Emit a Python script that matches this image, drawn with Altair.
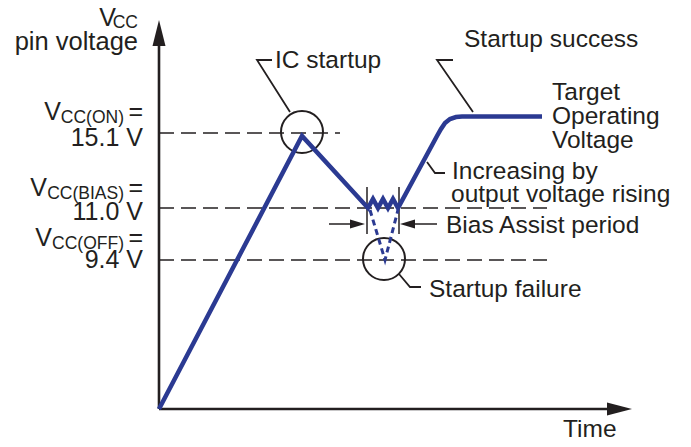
import altair as alt
import pandas as pd

# ---------------- data (schematic units: time from origin, level above time axis)
wave_t = [0, 143, 209, 214, 219, 224, 229, 234, 239, 278, 282, 286, 291, 297, 303, 383]
wave_v = [0, 273, 201, 210, 201, 210, 201, 210, 201, 273, 280, 286, 290, 292, 292.5, 292.5]

fail_t = [211, 226, 239]
fail_v = [199, 149, 199]

level_sub = ["CC(ON)", "CC(BIAS)", "CC(OFF)"]
level_volts = ["15.1 V", "11.0 V", "9.4 V"]
level_pos = [276, 201, 149]
level_end = [181, 388, 388]

INK = "#231f20"
BLUE = "#2b3a92"
FONT = "Liberation Sans"

X = alt.Scale(domain=[-151, 524], nice=False, zero=False)
Y = alt.Scale(domain=[-30, 401], nice=False, zero=False)


def xq(f="x"):
    return alt.X(f + ":Q", scale=X, axis=None)


def yq(f="y"):
    return alt.Y(f + ":Q", scale=Y, axis=None)


# dashed level lines
levels = pd.DataFrame({"x": [0] * 3, "x2": level_end, "y": level_pos})
dash = alt.Chart(levels).mark_rule(strokeDash=[15, 7], strokeWidth=1.4, color=INK).encode(
    x=xq(), x2="x2:Q", y=yq())

# axes
axes_df = pd.DataFrame({"x": [0, 0], "x2": [0, 448], "y": [0, 0], "y2": [363, 0]})
axes = alt.Chart(axes_df).mark_rule(strokeWidth=2.6, color=INK).encode(
    x=xq(), x2="x2:Q", y=yq(), y2="y2:Q")

# arrow heads (vertical orientation: x axis, bias assist arrows)
heads_v = pd.DataFrame({
    "g": ["xa", "xa", "bl", "bl", "br", "br"],
    "x": [448, 473, 191, 206, 241, 256],
    "y": [6.5, 0, 189.5, 185, 185, 189.5],
    "y2": [-6.5, 0, 180.5, 185, 185, 180.5],
})
hv = alt.Chart(heads_v).mark_area(orient="vertical", color=INK).encode(
    x=xq(), y=yq(), y2="y2:Q", detail="g:N")

heads_h = pd.DataFrame({"y": [363, 389], "x": [-6.5, 0], "x2": [6.5, 0]})
hh = alt.Chart(heads_h).mark_area(orient="horizontal", color=INK).encode(
    y=yq(), x=xq(), x2="x2:Q")

# bias assist ticks and shafts
ticks_df = pd.DataFrame({"x": [208, 240, 170, 256], "x2": [208, 240, 192, 278],
                         "y": [222, 222, 185, 185], "y2": [175, 175, 185, 185]})
ticks = alt.Chart(ticks_df).mark_rule(strokeWidth=1.5, color=INK).encode(
    x=xq(), x2="x2:Q", y=yq(), y2="y2:Q")

# circles
circ_df = pd.DataFrame({"x": [143, 225], "y": [277, 150]})
circles = alt.Chart(circ_df).mark_point(shape="circle", size=1764, filled=False,
                                        strokeWidth=2, color=INK, opacity=1).encode(
    x=xq(), y=yq())

# leader lines
lead_df = pd.DataFrame({
    "g": ["ic"] * 3 + ["su"] * 3 + ["in"] * 3 + ["fa"] * 3,
    "o": [0, 1, 2] * 4,
    "x": [131, 98, 113, 314, 278, 294, 268, 276, 286, 240, 251, 262],
    "y": [297, 349, 349, 297, 349, 349, 247, 236, 236, 135, 122, 122],
})
leaders = alt.Chart(lead_df).mark_line(strokeWidth=1.8, color=INK).encode(
    x=xq(), y=yq(), detail="g:N", order="o:Q")

# failure path (dotted blue)
fail_df = pd.DataFrame({"x": fail_t, "y": fail_v, "o": range(len(fail_t))})
fail = alt.Chart(fail_df).mark_line(strokeWidth=3, strokeDash=[6, 4], color=BLUE).encode(
    x=xq(), y=yq(), order="o:Q")

# main waveform
wave_df = pd.DataFrame({"x": wave_t, "y": wave_v, "o": range(len(wave_t))})
wave = alt.Chart(wave_df).mark_line(strokeWidth=4.5, color=BLUE, strokeJoin="miter").encode(
    x=xq(), y=yq(), order="o:Q")

# right-side annotations (left aligned)
ann_left = pd.DataFrame({
    "t": ["IC startup", "Startup success", "Target", "Operating", "Voltage",
          "Increasing by", "output voltage rising", "Bias Assist period",
          "Startup failure", "Time"],
    "x": [116, 305, 393, 393, 393, 293, 292, 287, 270, 404],
    "y": [341, 362, 309, 285, 261, 230, 207, 176, 112, -28],
})
tl = alt.Chart(ann_left).mark_text(align="left", baseline="alphabetic", font=FONT,
                                   fontSize=24.5, color=INK).encode(
    x=xq(), y=yq(), text="t:N")

# left-side labels (right aligned)
ann_right = pd.DataFrame({
    "t": ["V", "CC", "pin voltage",
          "V", level_sub[0], "=", level_volts[0],
          "V", level_sub[1], "=", level_volts[1],
          "V", level_sub[2], "=", level_volts[2]],
    "x": [-43, -21, -21,
          -98, -35, -16, -16,
          -112, -35, -16, -16,
          -107, -35, -16, -16],
    "y": [383, 381, 359,
          289, 286, 289, 263,
          213, 210, 213, 189,
          163, 160, 163, 141],
    "s": [25, 17.5, 25.5,
          25, 17.5, 25, 25,
          25, 17.5, 25, 25,
          25, 17.5, 25, 25],
})
tr = alt.Chart(ann_right).mark_text(align="right", baseline="alphabetic", font=FONT,
                                    color=INK).encode(
    x=xq(), y=yq(), text="t:N", size=alt.Size("s:Q", scale=None, legend=None))

chart = alt.layer(dash, axes, hv, hh, ticks, circles, leaders, fail, wave, tl, tr).properties(
    width=675, height=431, padding=0,
    autosize=alt.AutoSizeParams(type="none"),
    background="white",
).configure_view(stroke=None)

chart.save("out.html", embed_options={"renderer": "svg", "actions": False})
